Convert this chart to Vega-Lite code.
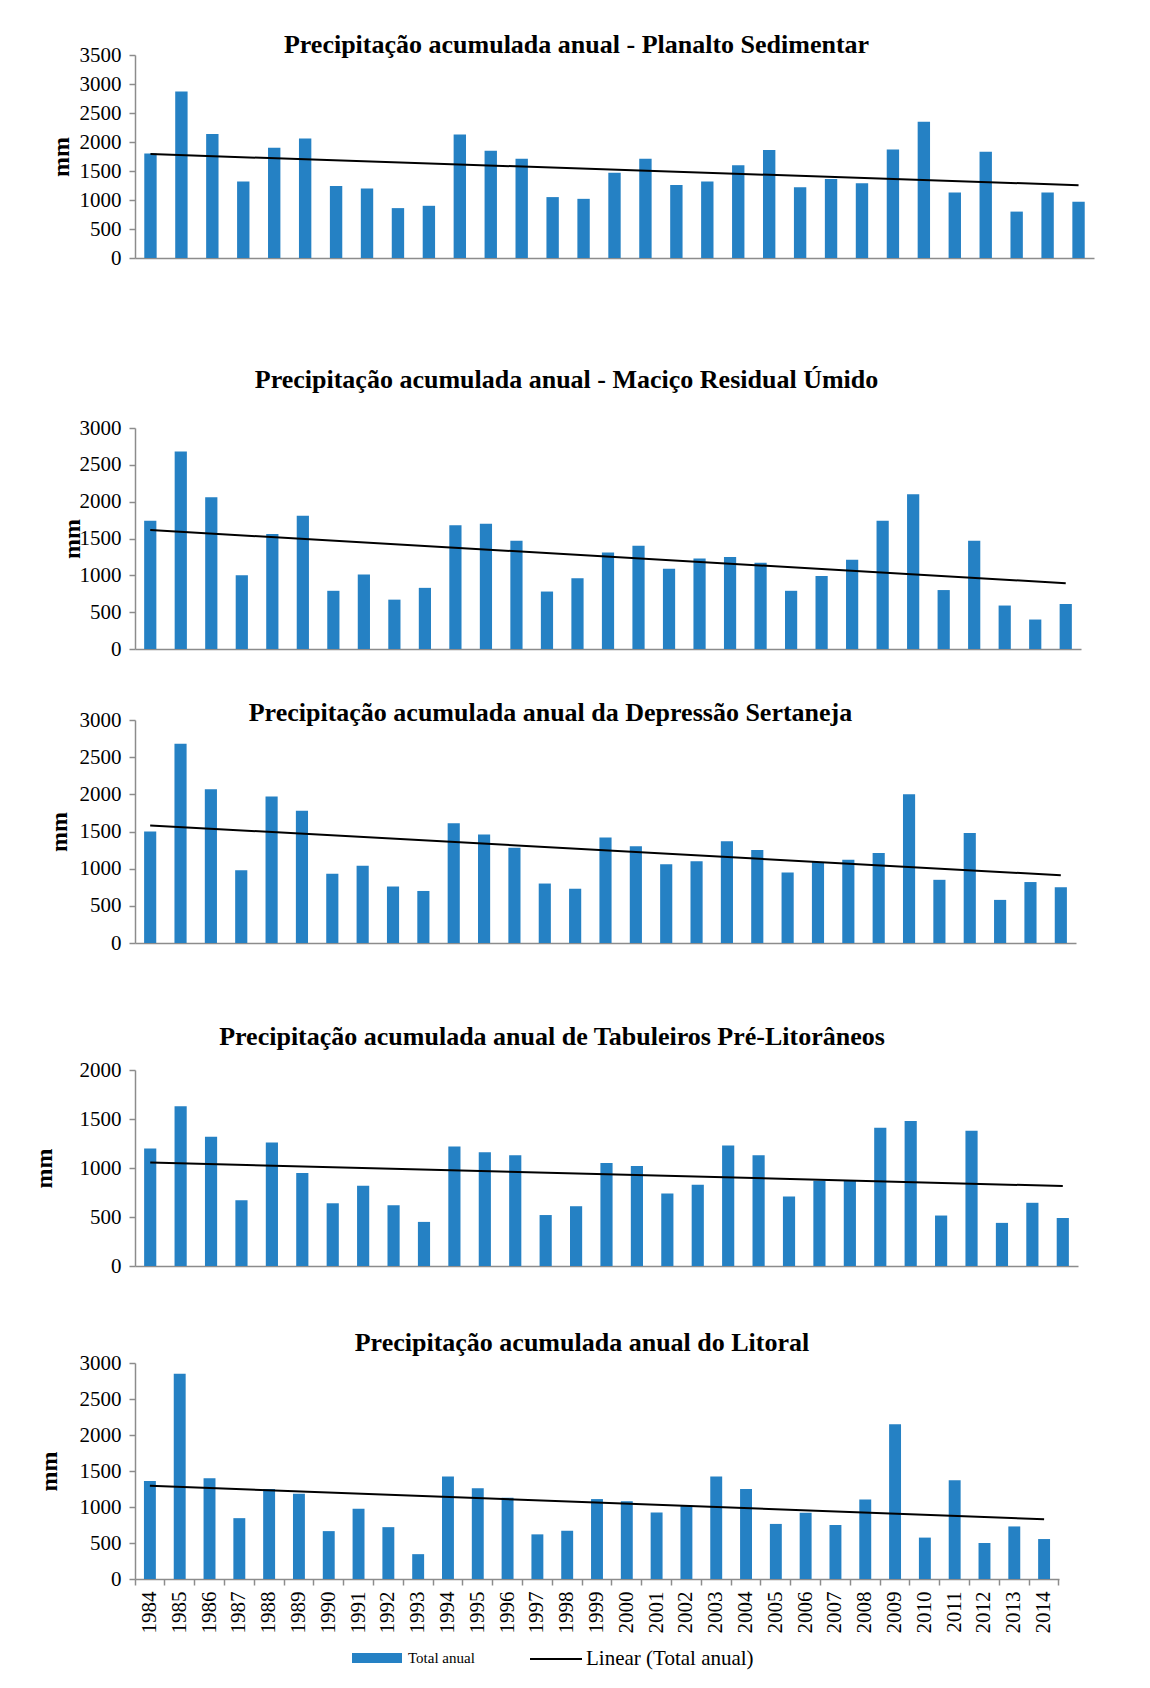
{
  "$schema": "https://vega.github.io/schema/vega-lite/v6.json",
  "padding": {"left": 32, "top": 32, "right": 10, "bottom": 10},
  "background": "white",
  "spacing": 0,
  "data": {"values": [
    {"r":"PS","ano":1984,"mm":1800},{"r":"PS","ano":1985,"mm":2870},{"r":"PS","ano":1986,"mm":2140},{"r":"PS","ano":1987,"mm":1320},{"r":"PS","ano":1988,"mm":1900},{"r":"PS","ano":1989,"mm":2060},{"r":"PS","ano":1990,"mm":1240},{"r":"PS","ano":1991,"mm":1200},{"r":"PS","ano":1992,"mm":860},{"r":"PS","ano":1993,"mm":900},{"r":"PS","ano":1994,"mm":2130},{"r":"PS","ano":1995,"mm":1850},{"r":"PS","ano":1996,"mm":1710},{"r":"PS","ano":1997,"mm":1050},{"r":"PS","ano":1998,"mm":1020},{"r":"PS","ano":1999,"mm":1470},{"r":"PS","ano":2000,"mm":1710},{"r":"PS","ano":2001,"mm":1260},{"r":"PS","ano":2002,"mm":1320},{"r":"PS","ano":2003,"mm":1600},{"r":"PS","ano":2004,"mm":1860},{"r":"PS","ano":2005,"mm":1220},{"r":"PS","ano":2006,"mm":1360},{"r":"PS","ano":2007,"mm":1290},{"r":"PS","ano":2008,"mm":1870},{"r":"PS","ano":2009,"mm":2350},{"r":"PS","ano":2010,"mm":1130},{"r":"PS","ano":2011,"mm":1830},{"r":"PS","ano":2012,"mm":800},{"r":"PS","ano":2013,"mm":1130},{"r":"PS","ano":2014,"mm":970},
    {"r":"MRU","ano":1984,"mm":1740},{"r":"MRU","ano":1985,"mm":2680},{"r":"MRU","ano":1986,"mm":2060},{"r":"MRU","ano":1987,"mm":1000},{"r":"MRU","ano":1988,"mm":1560},{"r":"MRU","ano":1989,"mm":1810},{"r":"MRU","ano":1990,"mm":790},{"r":"MRU","ano":1991,"mm":1010},{"r":"MRU","ano":1992,"mm":670},{"r":"MRU","ano":1993,"mm":830},{"r":"MRU","ano":1994,"mm":1680},{"r":"MRU","ano":1995,"mm":1700},{"r":"MRU","ano":1996,"mm":1470},{"r":"MRU","ano":1997,"mm":780},{"r":"MRU","ano":1998,"mm":960},{"r":"MRU","ano":1999,"mm":1310},{"r":"MRU","ano":2000,"mm":1400},{"r":"MRU","ano":2001,"mm":1090},{"r":"MRU","ano":2002,"mm":1230},{"r":"MRU","ano":2003,"mm":1250},{"r":"MRU","ano":2004,"mm":1170},{"r":"MRU","ano":2005,"mm":790},{"r":"MRU","ano":2006,"mm":990},{"r":"MRU","ano":2007,"mm":1210},{"r":"MRU","ano":2008,"mm":1740},{"r":"MRU","ano":2009,"mm":2100},{"r":"MRU","ano":2010,"mm":800},{"r":"MRU","ano":2011,"mm":1470},{"r":"MRU","ano":2012,"mm":590},{"r":"MRU","ano":2013,"mm":400},{"r":"MRU","ano":2014,"mm":610},
    {"r":"DS","ano":1984,"mm":1500},{"r":"DS","ano":1985,"mm":2680},{"r":"DS","ano":1986,"mm":2070},{"r":"DS","ano":1987,"mm":980},{"r":"DS","ano":1988,"mm":1970},{"r":"DS","ano":1989,"mm":1780},{"r":"DS","ano":1990,"mm":930},{"r":"DS","ano":1991,"mm":1040},{"r":"DS","ano":1992,"mm":760},{"r":"DS","ano":1993,"mm":700},{"r":"DS","ano":1994,"mm":1610},{"r":"DS","ano":1995,"mm":1460},{"r":"DS","ano":1996,"mm":1280},{"r":"DS","ano":1997,"mm":800},{"r":"DS","ano":1998,"mm":730},{"r":"DS","ano":1999,"mm":1420},{"r":"DS","ano":2000,"mm":1300},{"r":"DS","ano":2001,"mm":1060},{"r":"DS","ano":2002,"mm":1100},{"r":"DS","ano":2003,"mm":1370},{"r":"DS","ano":2004,"mm":1250},{"r":"DS","ano":2005,"mm":950},{"r":"DS","ano":2006,"mm":1090},{"r":"DS","ano":2007,"mm":1120},{"r":"DS","ano":2008,"mm":1210},{"r":"DS","ano":2009,"mm":2000},{"r":"DS","ano":2010,"mm":850},{"r":"DS","ano":2011,"mm":1480},{"r":"DS","ano":2012,"mm":580},{"r":"DS","ano":2013,"mm":820},{"r":"DS","ano":2014,"mm":750},
    {"r":"TPL","ano":1984,"mm":1200},{"r":"TPL","ano":1985,"mm":1630},{"r":"TPL","ano":1986,"mm":1320},{"r":"TPL","ano":1987,"mm":670},{"r":"TPL","ano":1988,"mm":1260},{"r":"TPL","ano":1989,"mm":950},{"r":"TPL","ano":1990,"mm":640},{"r":"TPL","ano":1991,"mm":820},{"r":"TPL","ano":1992,"mm":620},{"r":"TPL","ano":1993,"mm":450},{"r":"TPL","ano":1994,"mm":1220},{"r":"TPL","ano":1995,"mm":1160},{"r":"TPL","ano":1996,"mm":1130},{"r":"TPL","ano":1997,"mm":520},{"r":"TPL","ano":1998,"mm":610},{"r":"TPL","ano":1999,"mm":1050},{"r":"TPL","ano":2000,"mm":1020},{"r":"TPL","ano":2001,"mm":740},{"r":"TPL","ano":2002,"mm":830},{"r":"TPL","ano":2003,"mm":1230},{"r":"TPL","ano":2004,"mm":1130},{"r":"TPL","ano":2005,"mm":710},{"r":"TPL","ano":2006,"mm":870},{"r":"TPL","ano":2007,"mm":870},{"r":"TPL","ano":2008,"mm":1410},{"r":"TPL","ano":2009,"mm":1480},{"r":"TPL","ano":2010,"mm":515},{"r":"TPL","ano":2011,"mm":1380},{"r":"TPL","ano":2012,"mm":440},{"r":"TPL","ano":2013,"mm":645},{"r":"TPL","ano":2014,"mm":490},
    {"r":"LIT","ano":1984,"mm":1360},{"r":"LIT","ano":1985,"mm":2850},{"r":"LIT","ano":1986,"mm":1400},{"r":"LIT","ano":1987,"mm":845},{"r":"LIT","ano":1988,"mm":1250},{"r":"LIT","ano":1989,"mm":1185},{"r":"LIT","ano":1990,"mm":665},{"r":"LIT","ano":1991,"mm":975},{"r":"LIT","ano":1992,"mm":720},{"r":"LIT","ano":1993,"mm":345},{"r":"LIT","ano":1994,"mm":1425},{"r":"LIT","ano":1995,"mm":1260},{"r":"LIT","ano":1996,"mm":1130},{"r":"LIT","ano":1997,"mm":620},{"r":"LIT","ano":1998,"mm":670},{"r":"LIT","ano":1999,"mm":1110},{"r":"LIT","ano":2000,"mm":1080},{"r":"LIT","ano":2001,"mm":925},{"r":"LIT","ano":2002,"mm":1020},{"r":"LIT","ano":2003,"mm":1425},{"r":"LIT","ano":2004,"mm":1250},{"r":"LIT","ano":2005,"mm":765},{"r":"LIT","ano":2006,"mm":920},{"r":"LIT","ano":2007,"mm":750},{"r":"LIT","ano":2008,"mm":1105},{"r":"LIT","ano":2009,"mm":2150},{"r":"LIT","ano":2010,"mm":575},{"r":"LIT","ano":2011,"mm":1370},{"r":"LIT","ano":2012,"mm":500},{"r":"LIT","ano":2013,"mm":730},{"r":"LIT","ano":2014,"mm":555}
  ]},
  "vconcat": [
    {
      "width": 959, "height": 203,
      "title": {"text": "Precipitação acumulada anual - Planalto Sedimentar", "offset": -14, "dx": 5},
      "transform": [{"filter": "datum.r === 'PS'"}],
      "encoding": {
        "x": {"field": "ano", "type": "ordinal", "scale": {"paddingInner": 0, "paddingOuter": 0}, "axis": {"title": null, "labels": false, "ticks": false, "minExtent": 109, "maxExtent": 109}},
        "y": {"field": "mm", "type": "quantitative", "scale": {"domain": [0, 3500]}, "axis": {"values": [0,500,1000,1500,2000,2500,3000,3500], "format": "d", "title": "mm", "labelOverlap": false, "labelFont": "Liberation Serif", "titleFont": "Liberation Serif", "minExtent": 55, "maxExtent": 200, "titlePadding": 6}}
      },
      "layer": [
        {"mark": {"type": "bar", "width": {"band": 0.4}, "color": "#2581C4"}},
        {"transform": [{"regression": "mm", "on": "ano"}],
         "mark": {"type": "line", "color": "#000000", "strokeWidth": 2}}
      ]
    },
    {
      "width": 946, "height": 221,
      "title": {"text": "Precipitação acumulada anual - Maciço Residual Úmido", "offset": 24, "dx": -4},
      "transform": [{"filter": "datum.r === 'MRU'"}],
      "encoding": {
        "x": {"field": "ano", "type": "ordinal", "scale": {"paddingInner": 0, "paddingOuter": 0}, "axis": {"title": null, "labels": false, "ticks": false, "minExtent": 51, "maxExtent": 51}},
        "y": {"field": "mm", "type": "quantitative", "scale": {"domain": [0, 3000]}, "axis": {"values": [0,500,1000,1500,2000,2500,3000], "format": "d", "title": "mm", "labelOverlap": false, "labelFont": "Liberation Serif", "titleFont": "Liberation Serif", "minExtent": 55, "maxExtent": 200, "titlePadding": -5}}
      },
      "layer": [
        {"mark": {"type": "bar", "width": {"band": 0.4}, "color": "#2581C4"}},
        {"transform": [{"regression": "mm", "on": "ano"}],
         "mark": {"type": "line", "color": "#000000", "strokeWidth": 2}}
      ]
    },
    {
      "width": 941, "height": 223,
      "title": {"text": "Precipitação acumulada anual da Depressão Sertaneja", "offset": -17, "dx": -11},
      "transform": [{"filter": "datum.r === 'DS'"}],
      "encoding": {
        "x": {"field": "ano", "type": "ordinal", "scale": {"paddingInner": 0, "paddingOuter": 0}, "axis": {"title": null, "labels": false, "ticks": false, "minExtent": 81, "maxExtent": 81}},
        "y": {"field": "mm", "type": "quantitative", "scale": {"domain": [0, 3000]}, "axis": {"values": [0,500,1000,1500,2000,2500,3000], "format": "d", "title": "mm", "labelOverlap": false, "labelFont": "Liberation Serif", "titleFont": "Liberation Serif", "minExtent": 55, "maxExtent": 200, "titlePadding": 8}}
      },
      "layer": [
        {"mark": {"type": "bar", "width": {"band": 0.4}, "color": "#2581C4"}},
        {"transform": [{"regression": "mm", "on": "ano"}],
         "mark": {"type": "line", "color": "#000000", "strokeWidth": 2}}
      ]
    },
    {
      "width": 943, "height": 196,
      "title": {"text": "Precipitação acumulada anual de Tabuleiros Pré-Litorâneos", "offset": 9, "dx": -3},
      "transform": [{"filter": "datum.r === 'TPL'"}],
      "encoding": {
        "x": {"field": "ano", "type": "ordinal", "scale": {"paddingInner": 0, "paddingOuter": 0}, "axis": {"title": null, "labels": false, "ticks": false, "minExtent": 64, "maxExtent": 64}},
        "y": {"field": "mm", "type": "quantitative", "scale": {"domain": [0, 2000]}, "axis": {"values": [0,500,1000,1500,2000], "format": "d", "title": "mm", "labelOverlap": false, "labelFont": "Liberation Serif", "titleFont": "Liberation Serif", "minExtent": 69, "maxExtent": 200, "titlePadding": 10}}
      },
      "layer": [
        {"mark": {"type": "bar", "width": {"band": 0.4}, "color": "#2581C4"}},
        {"transform": [{"regression": "mm", "on": "ano"}],
         "mark": {"type": "line", "color": "#000000", "strokeWidth": 2}}
      ]
    },
    {
      "width": 924, "height": 216,
      "title": {"text": "Precipitação acumulada anual do Litoral", "offset": -4, "dx": 34},
      "transform": [{"filter": "datum.r === 'LIT'"}],
      "encoding": {
        "x": {"field": "ano", "type": "ordinal", "scale": {"paddingInner": 0, "paddingOuter": 0}, "axis": {"title": null, "labels": true, "ticks": true, "bandPosition": 1, "tickExtra": true, "tickSize": 6, "labelAngle": 270, "labelFontSize": 21, "labelPadding": 6, "labelOverlap": false, "labelFont": "Liberation Serif"}},
        "y": {"field": "mm", "type": "quantitative", "scale": {"domain": [0, 3000]}, "axis": {"values": [0,500,1000,1500,2000,2500,3000], "format": "d", "title": "mm", "labelOverlap": false, "labelFont": "Liberation Serif", "titleFont": "Liberation Serif", "minExtent": 64, "maxExtent": 200, "titlePadding": 10}}
      },
      "layer": [
        {"mark": {"type": "bar", "width": {"band": 0.4}},
         "encoding": {
           "color": {"datum": "Total anual", "type": "nominal", "scale": {"range": ["#2581C4"]},
             "legend": {"title": null, "orient": "none", "legendX": 217, "legendY": 270, "symbolType": "M-1,-0.2L1,-0.2L1,0.2L-1,0.2Z", "symbolSize": 2500, "symbolStrokeWidth": 0, "labelFontSize": 15, "labelOffset": 6, "labelLimit": 400, "labelFont": "Liberation Serif", "labelColor": "#000"}}
         }},
        {"transform": [{"regression": "mm", "on": "ano"}],
         "mark": {"type": "line", "strokeWidth": 2},
         "encoding": {
           "stroke": {"datum": "Linear (Total anual)", "type": "nominal", "scale": {"range": ["#000000"]},
             "legend": {"title": null, "orient": "none", "legendX": 394, "legendY": 269, "symbolType": "stroke", "symbolSize": 2704, "symbolStrokeWidth": 2, "labelFontSize": 21, "labelOffset": 3, "labelLimit": 400, "labelFont": "Liberation Serif", "labelColor": "#000"}}
         }}
      ]
    }
  ],
  "resolve": {"scale": {"color": "independent", "stroke": "independent"}, "legend": {"color": "independent", "stroke": "independent"}},
  "config": {
    "view": {"stroke": null},
    "font": "Liberation Serif",
    "style": {"guide-label": {"font": "Liberation Serif"}, "guide-title": {"font": "Liberation Serif"}, "group-title": {"font": "Liberation Serif"}},
    "title": {"font": "Liberation Serif", "fontSize": 26, "fontWeight": "bold", "color": "#000", "anchor": "middle", "frame": "bounds"},
    "axis": {"labelFont": "Liberation Serif", "labelColor": "#000", "titleFont": "Liberation Serif", "titleColor": "#000", "domainColor": "#8c8c8c", "domainWidth": 1.5, "tickColor": "#8c8c8c", "tickWidth": 1.5, "grid": false},
    "axisX": {"labelFont": "Liberation Serif"},
    "axisY": {"labelFont": "Liberation Serif", "labelFontSize": 21, "labelPadding": 8, "tickSize": 6, "titleFontSize": 24, "titleFontWeight": "bold"}
  }
}
